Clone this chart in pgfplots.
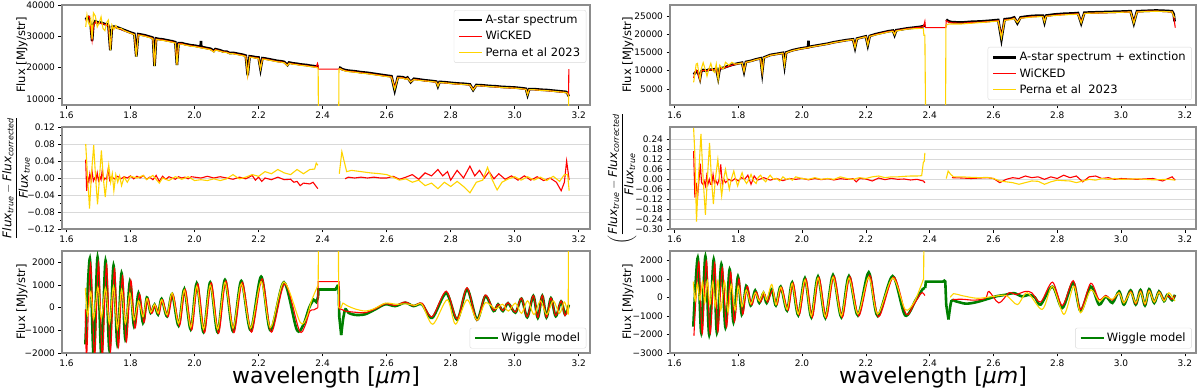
\documentclass[border=0pt]{standalone}
\usepackage{fontspec}
\setmainfont{DejaVu Sans}
\usepackage{amsmath}
\usepackage{pgfplots}
\usepackage{pgfplotstable}
\pgfplotsset{compat=1.18}

\definecolor{mplred}{RGB}{255,0,0}
\definecolor{mplgold}{RGB}{255,212,0}
\definecolor{mplgreen}{RGB}{0,128,0}
\definecolor{spine}{RGB}{140,140,140}

\newcommand{\ticksize}{\fontsize{9}{10}\selectfont}
\newcommand{\labsize}{\fontsize{11.5}{13}\selectfont}
\newcommand{\fracsize}{\fontsize{12}{14}\selectfont}
\newcommand{\resid}{\dfrac{\textit{Flux}_{\textit{true}}-\textit{Flux}_{\textit{corrected}}}{\textit{Flux}_{\textit{true}}}}

% spectrum, left column: wavelength, A-star, WiCKED, Perna
\pgfplotstableread{
x bk rd yl
1.660 35300 35000 33000
1.664 35900 35600 36800
1.668 36100 36300 34500
1.672 35300 36400 33500
1.676 33000 32500 35500
1.680 28500 28800 29000
1.684 33800 33200 37500
1.690 34800 34600 36500
1.696 34500 34300 33000
1.702 34300 34100 34200
1.708 34400 34100 36200
1.714 34100 34000 32500
1.720 33900 33700 31800
1.726 33900 33700 34500
1.731 33400 33200 35200
1.737 25500 26000 25500
1.742 33000 32700 33600
1.748 33100 32900 32200
1.754 33000 32800 33400
1.760 32800 32600 32400
1.770 32400 32200 32500
1.780 32000 31800 31800
1.790 31600 31400 31400
1.800 31200 31000 31000
1.812 30800 30600 30500
1.818 23500 24000 23500
1.824 30700 30500 30400
1.835 30500 30300 30200
1.845 30300 30100 30000
1.855 30000 29800 29700
1.865 29700 29500 29400
1.870 29500 29300 29200
1.875 20500 21000 20500
1.880 29300 29100 29000
1.890 29100 28900 28800
1.900 29000 28800 28700
1.910 28800 28600 28500
1.920 28600 28400 28300
1.930 28400 28200 28100
1.940 28100 27900 27800
1.945 20800 21200 20800
1.950 27800 27600 27500
1.960 27800 27600 27500
1.970 27500 27300 27200
1.980 27300 27100 27000
1.990 27100 26900 26800
2.000 27000 26800 26700
2.010 26800 26600 26500
2.019 26600 26400 26300
2.020 28500 26400 26300
2.021 26600 26400 26300
2.030 26400 26200 26100
2.040 26200 26000 25900
2.050 26000 25800 25700
2.060 25300 25100 25000
2.065 25900 25700 25600
2.080 25500 25300 25200
2.090 25100 25000 24900
2.100 25100 24900 24800
2.110 24600 24500 24400
2.120 24700 24500 24400
2.130 24500 24300 24200
2.140 24300 24100 24000
2.150 24100 23900 23800
2.160 23800 23600 23500
2.166 17500 17800 17500
2.172 23600 23400 23300
2.180 23500 23300 23200
2.190 23300 23100 23000
2.200 23200 23000 22900
2.206 19500 19800 19500
2.212 23000 22800 22700
2.220 22900 22700 22600
2.230 22700 22500 22400
2.240 22500 22300 22200
2.250 22300 22100 22000
2.260 22100 21900 21800
2.270 22000 21800 21700
2.280 21800 21600 21500
2.290 20800 20700 20600
2.295 21600 21400 21300
2.310 21300 21100 21000
2.320 21200 21000 20900
2.330 21000 20800 20700
2.340 20900 20700 20600
2.350 20800 20600 20500
2.360 20600 20400 20300
2.370 20500 20300 20200
2.380 20300 20300 20000
2.384 20400 21300 19900
2.386 20300 20500 19800
2.387 nan 19500 0
2.450 nan 19500 0
2.451 20000 19500 19500
2.455 19900 19700 19600
2.460 19500 19300 19300
2.470 19200 19000 18900
2.480 19000 18800 18700
2.500 18800 18600 18500
2.520 18500 18300 18200
2.540 18300 18100 18000
2.560 18000 17800 17700
2.580 17700 17500 17400
2.600 17400 17200 17100
2.615 17200 17000 16900
2.625 12700 13500 13000
2.635 17000 16800 16700
2.650 16900 16700 16600
2.660 16500 16300 16200
2.665 16800 16600 16500
2.675 15300 15400 15400
2.685 16400 16200 16100
2.700 16200 16000 15900
2.720 15900 15700 15700
2.740 15700 15500 15500
2.755 15500 15300 15300
2.760 14000 14300 14000
2.765 15400 15200 15200
2.780 15300 15100 15100
2.800 15100 14900 14900
2.820 14900 14700 14700
2.840 14800 14600 14600
2.860 14600 14400 14400
2.870 12800 13000 12800
2.880 14400 14200 14200
2.900 14300 14100 14100
2.920 14100 13900 13900
2.940 14000 13800 13800
2.960 13800 13600 13600
2.980 13700 13500 13500
3.000 13600 13400 13400
3.020 13400 13200 13200
3.035 13200 13000 13000
3.040 11300 11500 11300
3.045 13100 12900 12900
3.060 13100 12900 12900
3.080 12900 12700 12700
3.100 12800 12600 12600
3.120 12600 12400 12400
3.140 12400 12200 12200
3.160 12200 12000 12000
3.165 11800 11800 11700
3.168 10800 11200 10800
3.169 nan 19500 0
}\specL

% spectrum with extinction, right column
\pgfplotstableread{
x bk rd yl
1.660 9000 8000 6800
1.664 9300 9500 9000
1.668 9800 10200 11800
1.672 9800 9800 12000
1.676 9000 8500 9500
1.680 7800 7500 7500
1.684 9800 9800 10500
1.690 10200 10100 12200
1.696 10000 10000 10500
1.702 10100 10000 8500
1.708 10300 10300 10500
1.714 10300 10200 12000
1.720 10300 10300 10000
1.726 10400 10300 9500
1.731 10500 10400 11800
1.737 8000 8300 7500
1.742 10600 10500 11500
1.748 10700 10600 10800
1.754 10800 10700 10500
1.760 11000 10900 12300
1.770 11300 11200 11500
1.780 11600 11500 12300
1.790 11800 11700 11800
1.800 12000 11900 11900
1.812 12200 12100 12100
1.818 9800 10000 9800
1.824 12400 12300 12300
1.840 12700 12600 12600
1.855 13100 13000 13000
1.870 13400 13300 13300
1.875 9600 9800 9600
1.880 13600 13500 13500
1.900 14300 14200 14200
1.920 14600 14500 14500
1.940 14900 14800 14800
1.945 11500 11800 11500
1.950 15000 14900 14900
1.970 15600 15500 15500
1.990 16000 15900 15900
2.010 16300 16200 16200
2.019 16400 16300 16300
2.020 18200 16300 16300
2.021 16500 16400 16400
2.040 16800 16700 16700
2.060 17100 17000 17000
2.080 17400 17300 17300
2.100 17800 17700 17700
2.120 18100 18000 18000
2.140 18400 18300 18300
2.160 18600 18500 18500
2.166 16300 16600 16300
2.172 18800 18700 18700
2.190 19200 19100 19100
2.200 19400 19300 19300
2.206 17000 17300 17000
2.212 19500 19400 19400
2.230 20000 19900 19800
2.250 20400 20300 20200
2.270 20800 20700 20600
2.285 21000 20900 20800
2.290 19800 20000 19900
2.295 21100 21000 20900
2.310 21300 21200 21100
2.330 21600 21500 21400
2.350 21800 21700 21500
2.370 22000 21900 21600
2.380 22200 22100 21600
2.382 22300 22500 19700
2.385 22400 23500 19700
2.387 nan 21800 0
2.450 nan 21800 0
2.451 nan 21800 22500
2.452 24000 23700 22500
2.460 23500 23300 22800
2.470 23300 23100 22800
2.500 23200 23000 22800
2.530 23400 23200 23000
2.560 23500 23300 23200
2.590 23700 23500 23400
2.615 23900 23700 23600
2.625 18600 19500 19000
2.635 24100 23900 23800
2.655 24300 24100 24000
2.665 24600 24400 24300
2.675 23000 23300 23200
2.685 24600 24400 24400
2.700 24800 24600 24500
2.720 25000 24800 24700
2.745 25100 24900 24800
2.755 25100 24900 24800
2.760 23300 23600 23400
2.765 25100 24900 24900
2.790 25400 25200 25100
2.820 25600 25400 25300
2.850 25700 25500 25400
2.865 25800 25600 25500
2.875 23000 23300 23100
2.885 25900 25700 25700
2.920 26000 25800 25800
2.960 26100 25900 25900
3.000 26200 26000 26000
3.030 26300 26100 26100
3.040 23000 23300 23000
3.050 26300 26100 26100
3.080 26400 26300 26200
3.110 26500 26300 26300
3.140 26400 26200 26200
3.160 26300 26100 26100
3.165 25500 25000 25000
3.168 23500 23000 24500
3.170 nan 21800 nan
}\specR

\pgfplotsset{
  panel/.style={
    scale only axis, height=102pt,
    xmin=1.586, xmax=3.235,
    xtick={1.6,1.8,2.0,2.2,2.4,2.6,2.8,3.0,3.2},
    xticklabels={1.6,1.8,2.0,2.2,2.4,2.6,2.8,3.0,3.2},
    scaled ticks=false,
    tick label style={font=\ticksize},
    axis line style={spine, line width=1.2pt},
    tick align=outside, tick pos=left,
    major tick style={black, line width=0.6pt},
    minor tick style={black, line width=0.5pt},
    major tick length=3.5pt, minor tick length=2pt,
    unbounded coords=jump,
    label style={font=\labsize},
    legend cell align=left,
    legend style={font=\labsize, draw=black!15, rounded corners=2pt, fill=white,
      inner xsep=4pt, inner ysep=3pt, row sep=2pt},
    legend image code/.code={\draw[##1] (0pt,0pt) -- (23pt,0pt);},
  },
  lcol/.style={width=528pt},
  rcol/.style={width=526pt},
  midgrid/.style={ymajorgrids, major grid style={black!15, line width=0.8pt}},
  bk/.style={black, line width=2.6pt},
  rd/.style={mplred, line width=1.1pt},
  yl/.style={mplgold, line width=1.1pt},
  gr/.style={mplgreen, line width=2.6pt},
  wl/.style={xlabel={wavelength [\textit{μm}]},
    xlabel style={font=\fontsize{22}{24}\selectfont, at={(axis description cs:0.5,0)},
      anchor=north, inner sep=0pt, yshift=-14pt}},
}

\begin{document}
\begin{tikzpicture}
\path[use as bounding box] (0,0) rectangle (1200pt,-388pt);

% ---------- top left
\begin{axis}[panel, lcol, height=100pt, at={(62pt,-5pt)}, anchor=north west,
  ymin=8000, ymax=40000, ytick={10000,20000,30000,40000},
  yticklabels={10000,20000,30000,40000},
  ylabel={Flux [MJy/str]}, ylabel style={at={(axis description cs:-0.076,0.5)}, anchor=center},
  legend style={at={(axis description cs:0.993,0.95)}, anchor=north east}]
\addplot[bk] table[x=x,y=bk]{\specL};
\addplot[rd] table[x=x,y=rd]{\specL};
\addplot[yl] table[x=x,y=yl]{\specL};
\legend{A-star spectrum, WiCKED, Perna et al 2023}
\end{axis}

% ---------- top right
\begin{axis}[panel, rcol, height=100pt, at={(670pt,-5pt)}, anchor=north west,
  ymin=600, ymax=28000, ytick={5000,10000,15000,20000,25000},
  yticklabels={5000,10000,15000,20000,25000},
  ylabel={Flux [MJy/str]}, ylabel style={at={(axis description cs:-0.080,0.5)}, anchor=center},
  legend style={at={(axis description cs:0.992,0.05)}, anchor=south east}]
\addplot[bk] table[x=x,y=bk]{\specR};
\addplot[rd] table[x=x,y=rd]{\specR};
\addplot[yl] table[x=x,y=yl]{\specR};
\legend{A-star spectrum + extinction, WiCKED, Perna et al\ \ 2023}
\end{axis}

% ---------- middle left
\begin{axis}[panel, lcol, midgrid, at={(62pt,-127pt)}, anchor=north west,
  ymin=-0.12, ymax=0.12, ytick={-0.12,-0.08,-0.04,0,0.04,0.08,0.12},
  yticklabels={−0.12,−0.08,−0.04,0.00,0.04,0.08,0.12}, minor y tick num=1,
  ylabel={$\resid$},
  ylabel style={font=\fracsize, at={(axis description cs:-0.087,0.5)}, anchor=center}]
\addplot[rd] coordinates {
(1.660,0.043)(1.663,-0.030)(1.667,0.000)(1.670,-0.008)(1.673,0.010)(1.677,-0.005)
(1.680,0.015)(1.684,-0.007)(1.688,0.000)(1.692,-0.005)(1.696,0.012)(1.700,-0.006)
(1.704,0.004)(1.708,-0.004)(1.712,0.020)(1.716,-0.006)(1.720,0.000)(1.725,-0.003)
(1.730,0.020)(1.735,-0.005)(1.740,0.003)(1.750,-0.002)(1.760,0.004)(1.770,-0.002)
(1.780,0.003)(1.790,0.000)(1.800,0.005)(1.810,-0.002)(1.820,0.004)(1.830,0.000)
(1.840,0.006)(1.850,-0.003)(1.860,0.002)(1.870,-0.004)(1.880,0.006)(1.890,-0.008)
(1.900,0.004)(1.910,-0.003)(1.920,0.003)(1.930,0.000)(1.940,-0.003)(1.950,0.003)
(1.960,0.000)(1.970,0.002)(1.980,-0.002)(1.990,0.003)(2.000,0.002)(2.020,0.000)
(2.040,0.004)(2.060,0.000)(2.080,0.003)(2.100,0.000)(2.120,-0.003)(2.140,0.002)
(2.160,-0.002)(2.180,0.006)(2.190,-0.005)(2.200,0.002)(2.210,-0.008)(2.220,0.000)
(2.240,-0.004)(2.260,0.002)(2.280,-0.004)(2.300,-0.003)(2.310,-0.010)(2.320,-0.008)
(2.330,-0.018)(2.340,-0.012)(2.360,-0.014)(2.370,-0.010)(2.380,-0.020)(2.385,-0.025)
(2.420,nan)
(2.470,-0.002)(2.480,0.002)(2.500,0.000)(2.520,0.002)(2.540,0.000)(2.560,0.002)
(2.580,0.000)(2.600,0.000)(2.620,0.004)(2.640,-0.003)(2.660,0.002)(2.680,0.008)
(2.700,-0.003)(2.720,0.012)(2.740,0.005)(2.760,0.020)(2.775,0.005)(2.790,0.015)
(2.800,-0.005)(2.820,0.018)(2.840,0.000)(2.860,0.028)(2.875,0.005)(2.890,0.018)
(2.905,0.000)(2.920,0.015)(2.935,-0.002)(2.950,0.010)(2.970,-0.003)(2.990,0.005)
(3.010,-0.005)(3.030,0.005)(3.050,-0.005)(3.070,0.003)(3.090,-0.006)(3.110,0.000)
(3.130,-0.010)(3.145,-0.030)(3.155,-0.010)(3.162,0.040)(3.170,-0.005)};
\addplot[yl] coordinates {
(1.660,0.080)(1.666,0.000)(1.672,-0.072)(1.678,0.010)(1.685,0.077)(1.691,0.000)
(1.697,-0.062)(1.703,0.000)(1.709,0.065)(1.715,0.000)(1.721,-0.045)(1.727,0.000)
(1.732,0.030)(1.738,-0.010)(1.743,0.010)(1.748,-0.030)(1.754,0.008)(1.760,-0.010)
(1.766,0.005)(1.772,-0.018)(1.780,0.002)(1.790,-0.010)(1.800,0.004)(1.820,0.000)
(1.840,0.006)(1.850,-0.004)(1.870,0.006)(1.890,-0.012)(1.900,0.000)(1.920,-0.006)
(1.940,0.003)(1.960,-0.003)(1.980,0.003)(2.000,-0.006)(2.020,-0.004)(2.040,-0.006)
(2.060,-0.002)(2.080,-0.006)(2.100,-0.002)(2.120,0.008)(2.140,-0.002)(2.160,0.002)
(2.180,0.008)(2.200,0.004)(2.220,0.015)(2.240,0.010)(2.260,0.020)(2.280,0.012)
(2.300,0.008)(2.320,0.020)(2.340,0.010)(2.360,0.020)(2.375,0.021)(2.380,0.035)
(2.385,0.030)
(2.420,nan)
(2.452,0.010)(2.460,0.062)(2.467,0.040)(2.475,0.015)(2.490,0.018)(2.520,0.015)
(2.550,0.012)(2.580,0.010)(2.600,0.008)(2.620,0.002)(2.640,-0.005)(2.660,-0.002)
(2.680,-0.010)(2.700,-0.005)(2.720,-0.018)(2.740,-0.012)(2.760,-0.025)(2.780,-0.010)
(2.800,-0.020)(2.820,-0.008)(2.840,-0.020)(2.860,-0.035)(2.880,-0.010)(2.900,-0.005)
(2.915,0.025)(2.930,-0.005)(2.945,-0.028)(2.960,-0.010)(2.980,-0.002)(3.000,0.003)
(3.020,-0.005)(3.040,0.003)(3.060,-0.005)(3.080,0.002)(3.100,-0.006)(3.120,0.004)
(3.140,-0.008)(3.155,0.008)(3.165,0.008)(3.170,-0.030)};
\end{axis}

% ---------- middle right
\begin{axis}[panel, rcol, midgrid, at={(670pt,-127pt)}, anchor=north west,
  ymin=-0.30, ymax=0.316, ytick={-0.30,-0.24,-0.18,-0.12,-0.06,0,0.06,0.12,0.18,0.24},
  yticklabels={−0.30,−0.24,−0.18,−0.12,−0.06,0.00,0.06,0.12,0.18,0.24},
  ylabel={$\left(\resid\right.$},
  ylabel style={font=\fracsize, at={(axis description cs:-0.091,0.5)}, anchor=center}]
\addplot[rd] coordinates {
(1.660,0.170)(1.664,-0.110)(1.668,-0.020)(1.672,-0.120)(1.677,0.000)(1.681,0.095)
(1.685,-0.020)(1.689,-0.030)(1.693,-0.010)(1.697,-0.040)(1.701,0.020)(1.705,-0.030)
(1.709,0.000)(1.713,-0.030)(1.717,-0.030)(1.721,0.030)(1.725,-0.020)(1.729,-0.005)
(1.735,-0.030)(1.740,0.000)(1.745,0.090)(1.750,-0.030)(1.755,0.000)(1.760,-0.020)
(1.770,0.000)(1.780,-0.010)(1.790,0.005)(1.800,-0.010)(1.810,0.010)(1.820,0.000)
(1.830,0.025)(1.840,-0.030)(1.850,0.020)(1.860,-0.005)(1.880,0.010)(1.900,-0.005)
(1.920,0.005)(1.940,-0.008)(1.960,0.005)(1.980,0.000)(2.000,0.006)(2.020,-0.003)
(2.040,0.005)(2.060,-0.002)(2.080,0.004)(2.100,-0.004)(2.120,0.004)(2.140,0.000)
(2.160,0.004)(2.170,-0.015)(2.180,0.005)(2.200,0.002)(2.220,-0.010)(2.240,0.008)
(2.260,-0.002)(2.280,0.006)(2.300,0.000)(2.320,0.002)(2.340,-0.004)(2.360,0.000)
(2.380,-0.010)(2.385,-0.020)
(2.420,nan)
(2.470,0.010)(2.500,0.008)(2.530,0.005)(2.560,0.008)(2.580,0.010)(2.600,0.005)
(2.620,-0.020)(2.640,0.000)(2.660,0.010)(2.680,0.005)(2.700,0.020)(2.720,0.010)
(2.740,0.015)(2.760,0.000)(2.780,0.015)(2.800,0.005)(2.820,0.025)(2.840,0.010)
(2.860,0.020)(2.880,-0.015)(2.900,0.015)(2.920,0.020)(2.940,0.005)(2.960,0.010)
(2.980,0.000)(3.000,0.005)(3.050,0.000)(3.100,0.005)(3.130,-0.010)(3.160,0.015)
(3.170,-0.005)};
\addplot[yl] coordinates {
(1.660,0.310)(1.664,0.150)(1.669,-0.255)(1.675,0.000)(1.683,0.275)(1.690,0.000)
(1.697,-0.215)(1.703,0.000)(1.710,0.220)(1.716,0.000)(1.722,-0.150)(1.728,0.000)
(1.736,0.120)(1.742,0.000)(1.748,-0.100)(1.754,0.000)(1.760,0.060)(1.766,0.000)
(1.772,-0.060)(1.778,0.000)(1.786,0.050)(1.792,0.000)(1.798,-0.040)(1.805,0.000)
(1.812,0.040)(1.818,0.000)(1.826,-0.025)(1.834,0.000)(1.840,0.030)(1.848,-0.010)
(1.856,-0.025)(1.862,0.010)(1.870,0.025)(1.878,0.000)(1.886,-0.015)(1.894,0.010)
(1.900,0.025)(1.910,0.000)(1.920,0.005)(1.930,-0.010)(1.940,0.015)(1.950,0.000)
(1.960,0.005)(1.970,-0.005)(1.980,0.015)(2.000,0.005)(2.020,0.000)(2.040,0.010)
(2.060,0.000)(2.080,0.005)(2.100,0.000)(2.120,0.015)(2.140,0.005)(2.160,0.000)
(2.180,0.010)(2.200,0.005)(2.220,0.015)(2.240,0.020)(2.260,0.010)(2.280,0.015)
(2.300,0.015)(2.320,0.018)(2.340,0.020)(2.360,0.020)(2.375,0.022)(2.380,0.100)
(2.383,0.110)(2.385,0.160)
(2.420,nan)
(2.452,0.005)(2.458,0.050)(2.466,0.030)(2.475,0.015)(2.500,0.015)(2.530,0.012)
(2.560,0.010)(2.580,0.012)(2.600,0.005)(2.620,-0.010)(2.640,-0.015)(2.660,-0.020)
(2.680,-0.030)(2.700,-0.020)(2.720,-0.010)(2.740,-0.012)(2.760,-0.030)(2.780,-0.015)
(2.800,-0.005)(2.820,-0.008)(2.840,-0.010)(2.860,-0.020)(2.880,-0.010)(2.900,0.000)
(2.920,-0.005)(2.940,0.005)(2.960,0.000)(2.980,0.005)(3.000,0.000)(3.050,0.003)
(3.100,-0.003)(3.150,0.000)(3.170,-0.005)};
\end{axis}

% ---------- bottom left
\begin{axis}[panel, lcol, wl, at={(62pt,-251pt)}, anchor=north west,
  ymin=-2000, ymax=2500, ytick={-2000,-1000,0,1000,2000},
  yticklabels={−2000,−1000,0,1000,2000},
  ylabel={Flux [MJy/str]}, ylabel style={at={(axis description cs:-0.076,0.5)}, anchor=center},
  legend style={at={(axis description cs:0.993,0.045)}, anchor=south east}]
\addplot[gr, smooth] coordinates {
(1.659,-1620)(1.673,2170)(1.685,-2150)(1.697,2220)(1.709,-2150)(1.722,2070)
(1.734,-1850)(1.747,1860)(1.759,-1620)(1.772,1520)(1.784,-1400)(1.798,1150)
(1.811,-820)(1.825,640)(1.839,-670)(1.851,450)(1.863,-230)(1.875,130)(1.886,-300)
(1.897,390)(1.914,-380)(1.930,600)(1.950,-790)(1.968,820)(1.988,-960)(2.007,1080)
(2.028,-1080)(2.049,1120)(2.072,-1080)(2.095,1230)(2.120,-1040)(2.146,1180)
(2.175,-990)(2.208,1370)(2.237,-1000)(2.279,1120)(2.319,-960)(2.340,-750)
(2.358,0)(2.372,350)(2.380,250)(2.386,500)};
\addlegendentry{Wiggle model}
\addplot[gr, forget plot] coordinates {
(2.386,500)(2.387,800)(2.440,800)(2.446,950)(2.450,900)(2.452,-400)(2.458,-1210)};
\addplot[gr, smooth, forget plot] coordinates {
(2.458,-1210)(2.464,-500)(2.471,-70)(2.481,-230)(2.502,-320)(2.533,-290)(2.565,-70)
(2.596,150)(2.627,70)(2.658,220)(2.684,70)(2.710,150)(2.742,-450)(2.786,640)
(2.820,-530)(2.851,820)(2.882,-530)(2.908,510)(2.934,-150)(2.948,150)(2.963,-150)
(2.979,200)(3.002,-220)(3.021,400)(3.039,-420)(3.058,520)(3.072,-450)(3.086,520)
(3.099,-430)(3.113,420)(3.128,-380)(3.145,280)(3.157,-300)(3.169,120)};
\addplot[rd, smooth, forget plot] coordinates {
(1.659,-80)(1.663,-2150)(1.675,1950)(1.688,-2150)(1.700,2000)(1.712,-2150)
(1.725,1900)(1.737,-1950)(1.750,1700)(1.762,-1750)(1.775,1390)(1.787,-1500)
(1.801,1200)(1.814,-900)(1.828,600)(1.842,-650)(1.854,400)(1.866,-250)(1.878,100)
(1.889,-280)(1.900,350)(1.917,-400)(1.933,580)(1.953,-800)(1.971,800)(1.991,-980)
(2.010,1050)(2.031,-1100)(2.052,1100)(2.075,-1130)(2.098,1180)(2.123,-1100)
(2.149,1120)(2.178,-1080)(2.211,1270)(2.240,-1080)(2.282,1050)(2.327,-1000)
(2.345,-800)(2.360,-150)(2.372,-100)(2.385,0)};
\addplot[rd, forget plot] coordinates {(2.385,0)(2.386,1150)(2.451,1150)(2.452,-50)};
\addplot[rd, smooth, forget plot] coordinates {
(2.452,-50)(2.460,-80)(2.470,-150)(2.500,-200)(2.533,-220)(2.565,-50)(2.596,170)
(2.627,100)(2.658,250)(2.684,80)(2.710,200)(2.742,-400)(2.786,730)(2.820,-500)
(2.851,880)(2.882,-560)(2.908,560)(2.934,-120)(2.948,150)(2.963,-130)(2.979,220)
(3.002,-200)(3.021,420)(3.039,-400)(3.058,530)(3.072,-430)(3.086,540)(3.099,-420)
(3.113,430)(3.128,-350)(3.145,300)(3.157,-350)(3.169,150)};
\addplot[yl, smooth, forget plot] coordinates {
(1.659,870)(1.666,-350)(1.676,700)(1.685,-500)(1.698,900)(1.709,-450)(1.722,880)
(1.734,-700)(1.747,950)(1.759,-950)(1.772,800)(1.784,-700)(1.798,650)(1.811,-550)
(1.825,300)(1.839,-400)(1.851,400)(1.863,-200)(1.875,150)(1.886,-250)(1.897,350)
(1.914,-320)(1.930,650)(1.950,-700)(1.968,780)(1.988,-870)(2.007,950)(2.028,-950)
(2.049,1000)(2.072,-950)(2.095,1120)(2.120,-900)(2.146,1060)(2.175,-900)
(2.208,1150)(2.237,-880)(2.279,1130)(2.330,-650)(2.350,-420)(2.365,300)(2.386,1000)};
\addplot[yl, forget plot] coordinates {(2.386,1000)(2.388,5000)(2.449,5000)(2.450,0)};
\addplot[yl, smooth, forget plot] coordinates {
(2.450,0)(2.458,0)(2.463,200)(2.475,100)(2.500,-50)(2.533,-150)(2.560,-50)
(2.596,200)(2.630,150)(2.660,170)(2.690,100)(2.710,150)(2.744,-730)(2.789,350)
(2.815,-730)(2.851,350)(2.882,-550)(2.908,220)(2.940,-50)(2.962,150)(2.980,-150)
(3.002,200)(3.021,-250)(3.040,300)(3.060,-300)(3.080,300)(3.100,-300)(3.120,300)
(3.140,-250)(3.155,250)(3.167,-300)};
\addplot[yl, forget plot] coordinates {(3.167,-300)(3.168,5000)};
\end{axis}

% ---------- bottom right
\begin{axis}[panel, rcol, wl, at={(670pt,-251pt)}, anchor=north west,
  ymin=-3000, ymax=2500, ytick={-3000,-2000,-1000,0,1000,2000},
  yticklabels={−3000,−2000,−1000,0,1000,2000},
  ylabel={Flux [MJy/str]}, ylabel style={at={(axis description cs:-0.080,0.5)}, anchor=center},
  legend style={at={(axis description cs:0.992,0.045)}, anchor=south east}]
\addplot[gr, smooth] coordinates {
(1.659,-1580)(1.673,2140)(1.684,-1900)(1.697,2210)(1.709,-2020)(1.723,2040)
(1.733,-1900)(1.747,1790)(1.760,-1630)(1.773,1510)(1.785,-1330)(1.799,1120)
(1.811,-920)(1.825,620)(1.839,-440)(1.853,370)(1.866,-300)(1.879,230)(1.889,-300)
(1.905,440)(1.918,-440)(1.933,580)(1.953,-710)(1.969,800)(1.988,-960)(2.009,1030)
(2.029,-1060)(2.050,1120)(2.073,-1100)(2.097,1200)(2.123,-1060)(2.147,1150)
(2.175,-970)(2.209,1350)(2.237,-1000)(2.284,1150)(2.323,-970)(2.357,-120)
(2.378,440)(2.386,500)};
\addlegendentry{Wiggle model}
\addplot[gr, forget plot] coordinates {
(2.386,500)(2.388,850)(2.442,850)(2.446,900)(2.449,850)(2.452,-400)(2.459,-1190)};
\addplot[gr, smooth, forget plot] coordinates {
(2.459,-1190)(2.468,-200)(2.481,-210)(2.513,-340)(2.544,-270)(2.575,-120)(2.607,50)
(2.638,140)(2.664,230)(2.690,50)(2.711,140)(2.730,0)(2.748,-390)(2.785,580)
(2.816,-570)(2.850,800)(2.873,-740)(2.905,580)(2.931,-390)(2.952,50)(2.973,-300)
(2.994,320)(3.009,-390)(3.030,380)(3.046,-390)(3.061,400)(3.075,-440)(3.088,440)
(3.104,-300)(3.119,320)(3.135,-200)(3.145,140)(3.160,-150)(3.169,140)};
\addplot[rd, smooth, forget plot] coordinates {
(1.661,-2070)(1.676,1900)(1.687,-1950)(1.700,1950)(1.712,-1950)(1.726,1850)
(1.736,-1850)(1.750,1600)(1.763,-1600)(1.776,1350)(1.788,-1300)(1.802,1000)
(1.814,-900)(1.828,600)(1.842,-400)(1.856,300)(1.869,-250)(1.882,200)(1.892,-250)
(1.908,400)(1.921,-400)(1.936,550)(1.956,-700)(1.972,780)(1.991,-950)(2.012,1000)
(2.032,-1080)(2.053,1080)(2.076,-1100)(2.100,1150)(2.126,-1080)(2.150,1120)
(2.178,-1000)(2.212,1200)(2.240,-1050)(2.287,1100)(2.326,-900)(2.350,-400)
(2.370,150)(2.378,250)(2.385,100)};
\addplot[rd, smooth, forget plot] coordinates {
(2.471,-120)(2.500,-100)(2.540,-150)(2.575,-50)(2.586,320)(2.617,-300)(2.649,250)
(2.670,150)(2.700,320)(2.720,250)(2.748,-250)(2.785,820)(2.816,-440)(2.850,900)
(2.873,-650)(2.905,760)(2.931,-120)(2.952,100)(2.973,-150)(2.994,250)(3.009,-300)
(3.030,330)(3.046,-350)(3.061,350)(3.075,-380)(3.088,380)(3.104,-250)(3.119,300)
(3.135,-150)(3.145,100)(3.160,-100)(3.169,100)};
\addplot[yl, smooth, forget plot] coordinates {
(1.659,850)(1.665,-200)(1.672,750)(1.680,-150)(1.688,850)(1.695,-300)(1.703,900)
(1.711,-400)(1.720,850)(1.728,-500)(1.736,900)(1.745,-700)(1.757,850)(1.768,-800)
(1.778,700)(1.790,-700)(1.800,600)(1.812,-500)(1.825,400)(1.839,-350)(1.853,250)
(1.866,-200)(1.879,300)(1.889,-150)(1.905,700)(1.918,-400)(1.933,550)(1.953,-650)
(1.969,750)(1.988,-900)(2.009,950)(2.029,-1000)(2.050,1050)(2.073,-1050)(2.097,1100)
(2.123,-1000)(2.147,1050)(2.175,-900)(2.209,1100)(2.237,-900)(2.284,1050)
(2.323,-650)(2.350,-300)(2.370,500)(2.381,1000)};
\addplot[yl, forget plot] coordinates {(2.381,1000)(2.383,5000)};
\addplot[yl, smooth, forget plot] coordinates {
(2.465,0)(2.475,200)(2.500,100)(2.550,-50)(2.600,50)(2.640,100)(2.675,-390)
(2.706,250)(2.753,-650)(2.785,600)(2.821,-920)(2.852,600)(2.873,-830)(2.905,400)
(2.931,-200)(2.950,50)(2.973,-100)(2.994,250)(3.009,-300)(3.030,280)(3.046,-300)
(3.061,300)(3.075,-350)(3.088,350)(3.104,-250)(3.119,280)(3.135,-200)(3.150,250)
(3.169,-200)};
\end{axis}
\end{tikzpicture}
\end{document}
